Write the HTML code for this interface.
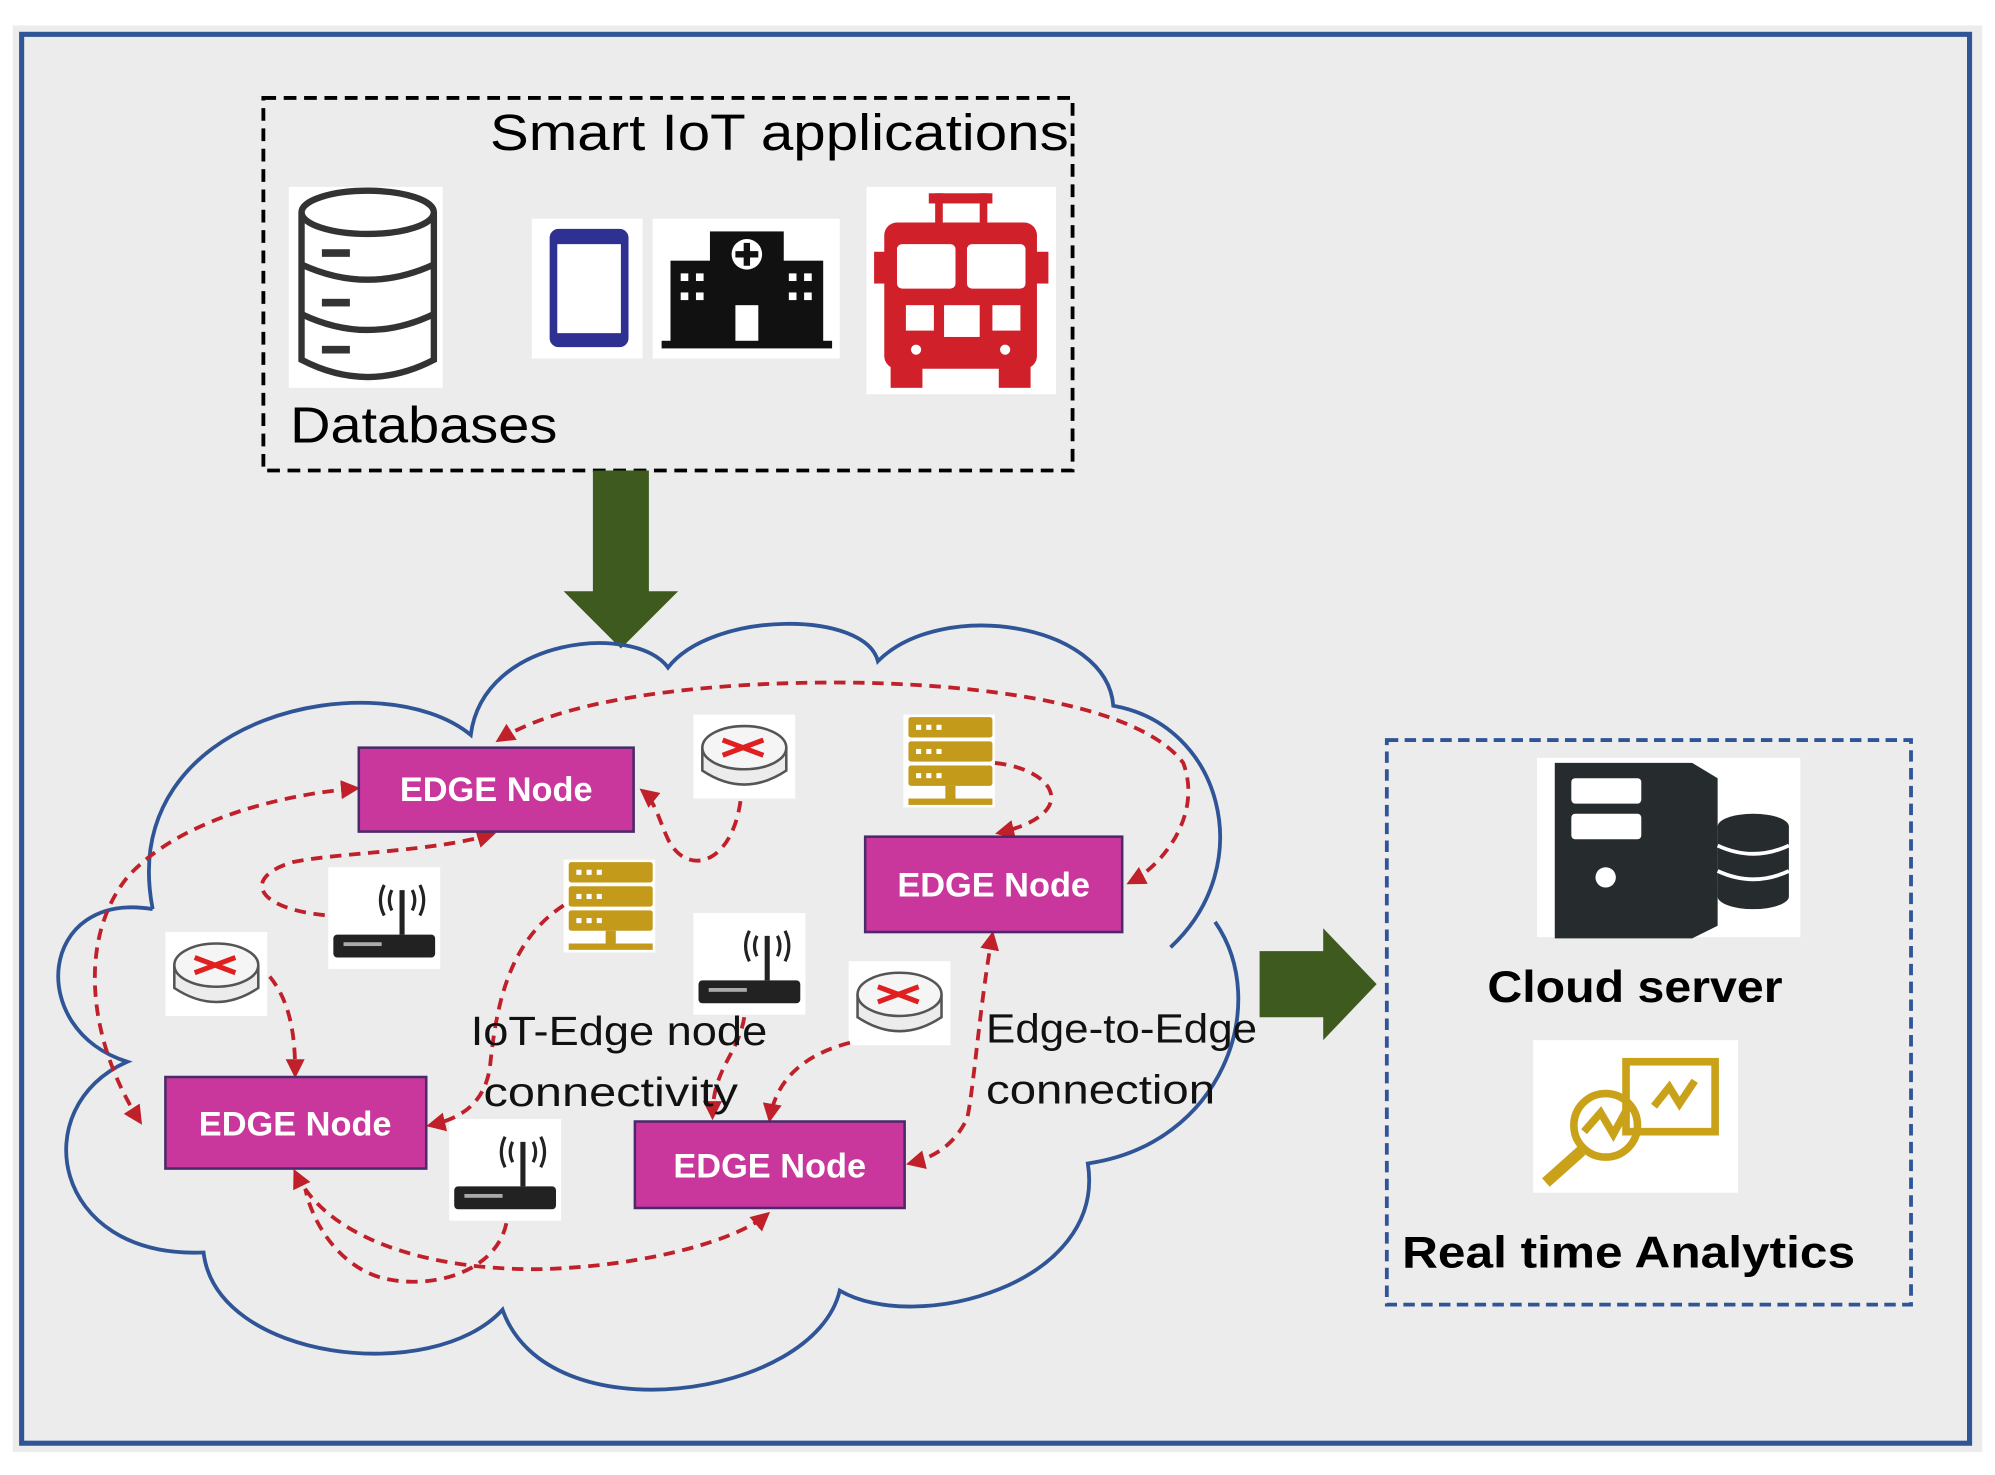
<!DOCTYPE html>
<html><head><meta charset="utf-8"><style>
html,body{margin:0;padding:0;background:#fff;}
svg{display:block;}
text{font-family:"Liberation Sans",sans-serif;}
</style></head><body>
<svg width="1995" height="1475" viewBox="0 0 1568 1160" preserveAspectRatio="none" xmlns="http://www.w3.org/2000/svg">
<defs>
<marker id="ar" viewBox="0 0 10 10" refX="8" refY="5" markerWidth="5" markerHeight="5" orient="auto-start-reverse">
<path d="M0,0 L10,5 L0,10 z" fill="#c0202a"/></marker>
</defs>
<rect x="0" y="0" width="1568" height="1160" fill="#fff"/>
<rect x="10" y="20" width="1548" height="1122" fill="#ececec"/>
<rect x="17" y="27" width="1531" height="1108" fill="#ececec" stroke="#2f5597" stroke-width="4"/>

<!-- top dashed box -->
<rect x="207" y="77" width="636" height="293" fill="none" stroke="#000" stroke-width="3" stroke-dasharray="10,6"/>
<text x="385" y="118" font-size="40" textLength="455" lengthAdjust="spacingAndGlyphs">Smart IoT applications</text>
<text x="228" y="348" font-size="40" textLength="210" lengthAdjust="spacingAndGlyphs">Databases</text>

<!-- database icon -->
<rect x="227" y="147" width="121" height="158" fill="#fff"/>
<g fill="none" stroke="#333" stroke-width="5">
<ellipse cx="289" cy="167" rx="52" ry="17"/>
<path d="M237,167 V283 Q289,310 341,283 V167"/>
<path d="M237,208 Q289,232 341,208 M237,247 Q289,272 341,247"/>
</g>
<g fill="#333"><rect x="253" y="196" width="22" height="6"/><rect x="253" y="235" width="22" height="6"/><rect x="253" y="272" width="22" height="6"/></g>

<!-- phone -->
<rect x="418" y="172" width="87" height="110" fill="#fff"/>
<rect x="432" y="180" width="62" height="93" rx="7" fill="#2e3192"/>
<rect x="438" y="192" width="50" height="70" fill="#fff"/>
<!-- hospital -->
<rect x="513" y="172" width="147" height="110" fill="#fff"/>
<g fill="#111">
<rect x="558" y="182" width="58" height="90"/>
<rect x="527" y="205" width="40" height="67"/>
<rect x="607" y="205" width="40" height="67"/>
<rect x="520" y="268" width="134" height="6"/>
</g>
<circle cx="587" cy="200" r="12" fill="#fff"/>
<path d="M587,191 V209 M578,200 H596" stroke="#111" stroke-width="5"/>
<rect x="578" y="240" width="18" height="28" fill="#fff"/>
<g fill="#fff"><rect x="535" y="215" width="6" height="6"/><rect x="547" y="215" width="6" height="6"/><rect x="535" y="230" width="6" height="6"/><rect x="547" y="230" width="6" height="6"/><rect x="620" y="215" width="6" height="6"/><rect x="632" y="215" width="6" height="6"/><rect x="620" y="230" width="6" height="6"/><rect x="632" y="230" width="6" height="6"/></g>
<!-- fire truck -->
<rect x="681" y="147" width="149" height="163" fill="#fff"/>
<g fill="#d0202a">
<rect x="730" y="152" width="50" height="8"/><rect x="735" y="152" width="6" height="25"/><rect x="770" y="152" width="6" height="25"/>
<rect x="695" y="175" width="120" height="115" rx="10"/>
<rect x="687" y="198" width="12" height="25"/><rect x="812" y="198" width="12" height="25"/>
<rect x="700" y="285" width="25" height="20"/><rect x="785" y="285" width="25" height="20"/>
</g>
<g fill="#fff"><rect x="705" y="192" width="46" height="35" rx="4"/><rect x="760" y="192" width="46" height="35" rx="4"/><rect x="712" y="240" width="22" height="20"/><rect x="780" y="240" width="22" height="20"/><rect x="742" y="240" width="28" height="25"/><circle cx="720" cy="275" r="4"/><circle cx="790" cy="275" r="4"/></g>

<!-- down arrow -->
<path d="M466,370 H510 V465 H533 L488,510 L443,465 H466 Z" fill="#3e5a1e"/>

<!-- cloud -->
<path d="M120,715 C90,560 300,520 370,578 C380,500 500,490 525,525 C560,480 680,480 690,520 C740,470 870,490 875,555 C960,570 990,680 920,745 M955,725 C1000,790 960,900 855,915 C870,1010 720,1050 660,1015 C640,1100 430,1130 395,1030 C340,1090 170,1070 160,985 C40,990 20,870 100,835 C20,810 30,700 120,715" fill="none" stroke="#2f5597" stroke-width="3"/>

<!-- right arrow -->
<path d="M990,748 H1040 V730 L1082,774 L1040,818 V800 H990 Z" fill="#3e5a1e"/>

<!-- right dashed box -->
<rect x="1090" y="582" width="412" height="444" fill="none" stroke="#2f5597" stroke-width="3" stroke-dasharray="9,5"/>
<rect x="1208" y="596" width="207" height="141" fill="#fff"/>
<g fill="#262b2e">
<path d="M1222,600 H1330 L1350,612 V728 L1330,738 H1222 Z"/>
<ellipse cx="1378" cy="650" rx="28" ry="10"/><rect x="1350" y="650" width="56" height="55"/><ellipse cx="1378" cy="705" rx="28" ry="10"/>
</g>
<g fill="#fff"><rect x="1235" y="612" width="55" height="20" rx="3"/><rect x="1235" y="640" width="55" height="20" rx="3"/><circle cx="1262" cy="690" r="8"/></g>
<path d="M1350,665 Q1378,678 1406,665 M1350,685 Q1378,698 1406,685" stroke="#fff" stroke-width="3" fill="none"/>
<text x="1285" y="788" font-size="35" font-weight="bold" text-anchor="middle" textLength="232" lengthAdjust="spacingAndGlyphs">Cloud server</text>
<rect x="1205" y="818" width="161" height="120" fill="#fff"/>
<g fill="none" stroke="#c9a21a" stroke-width="6">
<rect x="1278" y="835" width="70" height="55"/>
<circle cx="1262" cy="885" r="25"/>
<path d="M1245,890 L1258,875 L1268,892 L1280,870 M1300,870 L1312,855 L1320,868 L1332,850"/>
<path d="M1243,905 L1215,930" stroke-width="9"/>
</g>
<text x="1102" y="997" font-size="35" font-weight="bold" textLength="356" lengthAdjust="spacingAndGlyphs">Real time Analytics</text>

<!-- routers -->
<g id="rt">
<rect x="545" y="562" width="80" height="66" fill="#fff"/>
<path d="M552,588 V606 Q585,628 618,606 V588" fill="#ececec" stroke="#555" stroke-width="2"/>
<ellipse cx="585" cy="588" rx="33" ry="17" fill="#f5f5f5" stroke="#555" stroke-width="2"/>
<path d="M568,582 L600,594 M568,594 L600,582" stroke="#e02020" stroke-width="4"/>
</g>
<use href="#rt" transform="translate(-415,171)"/>
<use href="#rt" transform="translate(122,194)"/>

<!-- servers -->
<g id="sv">
<rect x="710" y="562" width="72" height="73" fill="#fff"/>
<g fill="#c49a1a"><rect x="714" y="564" width="66" height="16" rx="2"/><rect x="714" y="583" width="66" height="16" rx="2"/><rect x="714" y="602" width="66" height="16" rx="2"/><rect x="714" y="628" width="66" height="5"/><rect x="743" y="618" width="8" height="12"/></g>
<g fill="#fff"><rect x="720" y="570" width="4" height="4"/><rect x="728" y="570" width="4" height="4"/><rect x="736" y="570" width="4" height="4"/><rect x="720" y="589" width="4" height="4"/><rect x="728" y="589" width="4" height="4"/><rect x="736" y="589" width="4" height="4"/><rect x="720" y="608" width="4" height="4"/><rect x="728" y="608" width="4" height="4"/><rect x="736" y="608" width="4" height="4"/></g>
</g>
<use href="#sv" transform="translate(-267,114)"/>

<!-- wifi routers -->
<g id="wf">
<rect x="258" y="682" width="88" height="80" fill="#fff"/>
<rect x="262" y="735" width="80" height="18" rx="3" fill="#222"/>
<rect x="270" y="741" width="30" height="3" fill="#aaa"/>
<path d="M316,735 V700" stroke="#222" stroke-width="4"/>
<path d="M308,700 Q304,708 308,716 M324,700 Q328,708 324,716 M302,696 Q296,708 302,720 M330,696 Q336,708 330,720" stroke="#222" stroke-width="2.5" fill="none"/>
</g>
<use href="#wf" transform="translate(287,36)"/>
<use href="#wf" transform="translate(95,198)"/>

<!-- red dashed connectors -->
<g fill="none" stroke="#c0202a" stroke-width="3" stroke-dasharray="9,6">
<path d="M392,582 C450,545 580,535 680,537 C800,540 900,560 930,600 C945,640 915,680 888,694" marker-start="url(#ar)" marker-end="url(#ar)"/>
<path d="M110,882 C70,820 60,740 100,690 C140,645 220,625 280,620" marker-start="url(#ar)" marker-end="url(#ar)"/>
<path d="M387,656 C340,670 270,670 230,678 C190,690 200,715 258,720" marker-start="url(#ar)"/>
<path d="M582,630 C575,680 540,690 525,660 C518,645 515,630 505,622" marker-end="url(#ar)"/>
<path d="M782,600 C830,605 850,640 785,655" marker-end="url(#ar)"/>
<path d="M212,768 C230,790 232,820 232,845" marker-end="url(#ar)"/>
<path d="M443,712 C400,740 390,790 385,840 C380,870 360,880 338,885" marker-end="url(#ar)"/>
<path d="M585,800 C580,830 560,840 560,878" marker-end="url(#ar)"/>
<path d="M668,820 C630,830 610,850 605,880" marker-end="url(#ar)"/>
<path d="M780,735 C770,790 765,860 760,880 C750,900 735,910 715,915" marker-start="url(#ar)" marker-end="url(#ar)"/>
<path d="M232,922 C260,980 350,1000 430,998 C510,995 580,975 603,955" marker-start="url(#ar)" marker-end="url(#ar)"/>
<path d="M398,962 C390,1000 340,1015 300,1005 C265,995 245,960 240,935"/>
</g>

<!-- edge nodes -->
<g font-size="27" font-weight="bold" fill="#fff" text-anchor="middle">
<rect x="282" y="588" width="216" height="66" fill="#c9379d" stroke="#4a2a6a" stroke-width="2"/>
<text x="390" y="630" fill="#fff">EDGE Node</text>
<rect x="680" y="658" width="202" height="75" fill="#c9379d" stroke="#4a2a6a" stroke-width="2"/>
<text x="781" y="705" fill="#fff">EDGE Node</text>
<rect x="130" y="847" width="205" height="72" fill="#c9379d" stroke="#4a2a6a" stroke-width="2"/>
<text x="232" y="893" fill="#fff">EDGE Node</text>
<rect x="499" y="882" width="212" height="68" fill="#c9379d" stroke="#4a2a6a" stroke-width="2"/>
<text x="605" y="926" fill="#fff">EDGE Node</text>
</g>

<g font-size="32" fill="#111">
<text x="370" y="822" textLength="233" lengthAdjust="spacingAndGlyphs">IoT-Edge node</text>
<text x="380" y="870" textLength="200" lengthAdjust="spacingAndGlyphs">connectivity</text>
<text x="775" y="820" textLength="213" lengthAdjust="spacingAndGlyphs">Edge-to-Edge</text>
<text x="775" y="868" textLength="180" lengthAdjust="spacingAndGlyphs">connection</text>
</g>
</svg>
</body></html>
